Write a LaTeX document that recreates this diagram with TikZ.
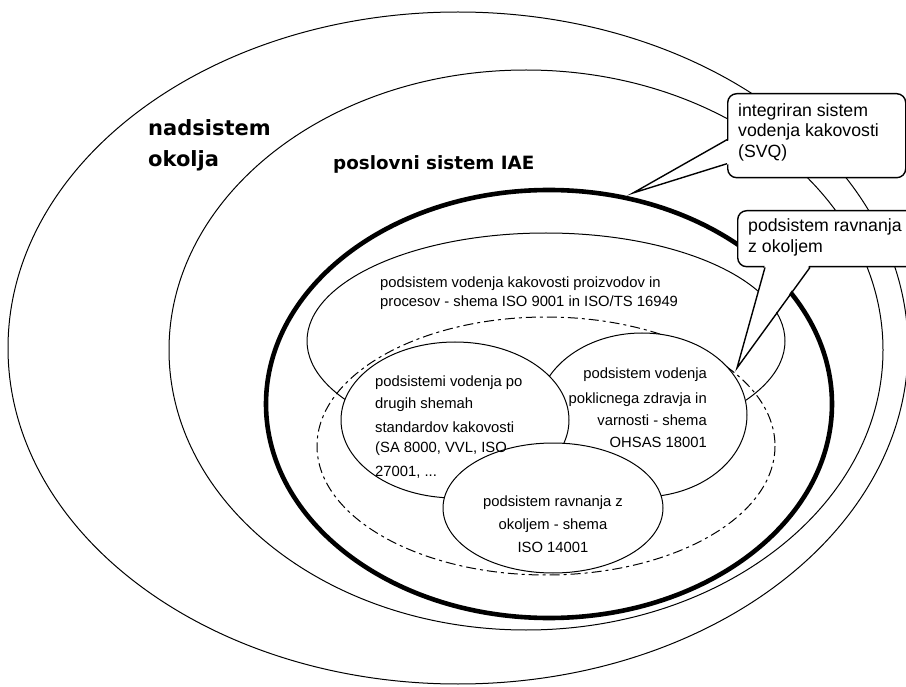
\documentclass[tikz,border=0pt]{standalone}
\usepackage{fontspec}
\setmainfont{Liberation Sans}
\newfontfamily\headfont{DejaVu Sans}
\begin{document}
\begin{tikzpicture}[x=1pt,y=-1pt,
  ring/.style={line width=1pt},
  thickring/.style={line width=4.6pt},
  dashring/.style={line width=1pt, dash pattern=on 10pt off 4pt on 3pt off 4pt},
  subset/.style={line width=1pt, fill=white},
  callout/.style={draw, fill=white, line width=1.4pt, rounded corners=9pt, inner sep=0pt},
  tailline/.style={line width=1.4pt, line join=miter},
  heading/.style={font=\headfont\bfseries\fontsize{21}{25}\selectfont, inner sep=0pt},
  subheading/.style={font=\headfont\bfseries\fontsize{18.3}{22}\selectfont, inner sep=0pt},
  settext/.style={font=\fontsize{14.8}{18}\selectfont, inner sep=0pt},
  calltext/.style={font=\fontsize{17.7}{21}\selectfont, inner sep=0pt}]
\useasboundingbox (0,0) rectangle (906,687);
\clip (0,0) rectangle (906,687);

% environment, business system and integrated system boundaries
\draw[ring] (458,348) ellipse [x radius=450, y radius=336];
\draw[ring] (526,350) ellipse [x radius=357, y radius=280];
\draw[thickring] (549,404) ellipse [x radius=283, y radius=214];

% quality subsystem and the dash-dot envelope
\draw[ring] (546,341) ellipse [x radius=239, y radius=108];
\draw[dashring] (546,446) ellipse [x radius=229, y radius=129];

% overlapping subsystems (each one covers the ones drawn before)
\draw[subset] (642,415) ellipse [x radius=105, y radius=82];
\draw[subset] (455,420) ellipse [x radius=114, y radius=78];
\draw[subset] (553,508) ellipse [x radius=110, y radius=65];

% callout: integrated quality management system
\node[callout, minimum width=178pt, minimum height=84pt, anchor=north west] (svq) at (727,93) {};
\coordinate (svqtip) at (633,193);
\fill[white] ([xshift=3pt,yshift=-4pt]svq.west) -- (svqtip) -- ([xshift=3pt,yshift=-28pt]svq.west) -- cycle;
\draw[tailline] ([yshift=-4pt]svq.west) -- (svqtip) -- ([yshift=-28pt]svq.west);

% callout: environmental subsystem
\node[callout, minimum width=178pt, minimum height=56pt, anchor=north west] (eco) at (737,210) {};
\coordinate (ecotip) at (737,368);
\fill[white] ([xshift=28pt,yshift=3pt]eco.south west) -- (ecotip) -- ([xshift=73pt,yshift=3pt]eco.south west) -- cycle;
\draw[tailline] ([xshift=28pt]eco.south west) -- (ecotip) -- ([xshift=73pt]eco.south west);

% headings
\node[heading, anchor=base west] (nad1) at (148,136) {nadsistem};
\node[heading, anchor=base west] (nad2) at (148,167) {okolja};
\node[subheading, anchor=base west] (iae) at (333,170) {poslovni sistem IAE};

% callout texts
\node[calltext, anchor=base west] (svq1) at (738,117) {integriran sistem};
\node[calltext, anchor=base west] (svq2) at (738,137) {vodenja kakovosti};
\node[calltext, anchor=base west] (svq3) at (738,158) {(SVQ)};
\node[calltext, anchor=base west] (eco1) at (748,232) {podsistem ravnanja};
\node[calltext, anchor=base west] (eco2) at (748,253) {z okoljem};

% quality subsystem text
\node[settext, anchor=base west] (q1) at (380,288) {podsistem vodenja kakovosti proizvodov in};
\node[settext, anchor=base west] (q2) at (380,307) {procesov - shema ISO 9001 in ISO/TS 16949};

% other standards
\node[settext, anchor=base west] (o1) at (375,387) {podsistemi vodenja po};
\node[settext, anchor=base west] (o2) at (375,408) {drugih shemah};
\node[settext, anchor=base west] (o3) at (375,432) {standardov kakovosti};
\node[settext, anchor=base west] (o4) at (375,453) {(SA 8000, VVL, ISO};
\node[settext, anchor=base west] (o5) at (375,476) {27001, ...};

% occupational health and safety
\node[settext, anchor=base east] (h1) at (707,379) {podsistem vodenja};
\node[settext, anchor=base east] (h2) at (707,403) {poklicnega zdravja in};
\node[settext, anchor=base east] (h3) at (707,425) {varnosti - shema};
\node[settext, anchor=base east] (h4) at (707,447) {OHSAS 18001};

% environmental management
\node[settext, anchor=base] (e1) at (553,506) {podsistem ravnanja z};
\node[settext, anchor=base] (e2) at (553,529) {okoljem - shema};
\node[settext, anchor=base] (e3) at (553,552) {ISO 14001};
\end{tikzpicture}
\end{document}
